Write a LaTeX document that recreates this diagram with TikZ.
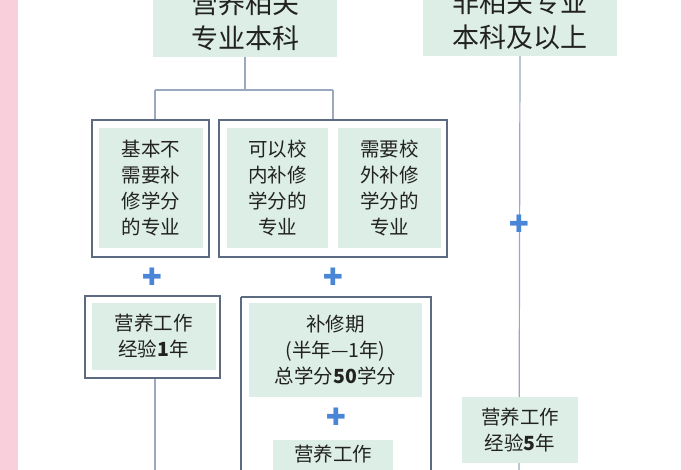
\documentclass[tikz,border=0pt]{standalone}
\usepackage{fontspec}
\setmainfont{Noto Sans CJK SC}
\newfontfamily\symf{DejaVu Sans}
\definecolor{pinkb}{HTML}{F9CFDC}
\definecolor{gfill}{HTML}{DDEEE6}
\definecolor{obord}{HTML}{5C6B82}
\definecolor{lcol}{HTML}{9AA8C0}
\definecolor{pblue}{HTML}{4A86D8}
\definecolor{txt}{HTML}{222222}
\tikzset{
 gbox/.style={fill=gfill,inner sep=0pt,align=center,text=txt,font=\fontsize{19.5}{26}\selectfont},
 tbox/.style={fill=gfill,inner sep=0pt,align=center,text=txt,font=\fontsize{27}{35}\selectfont},
 obox/.style={draw=obord,line width=1.3pt},
 conn/.style={draw=lcol,line width=1.2pt},
 plus/.style={text=pblue,inner sep=0pt,font=\symf\fontsize{24}{24}\selectfont}
}
\begin{document}
\begin{tikzpicture}[x=1pt,y=-1pt]
\useasboundingbox (0,0) rectangle (700,470);
\fill[white] (0,0) rectangle (700,470);
\fill[pinkb] (0,0) rectangle (18,470);
\fill[pinkb] (681,0) rectangle (700,470);
% connectors
\coordinate (jL) at (155,90);
\coordinate (jR) at (333,90);
\coordinate (e1) at (155,470);
\coordinate (e2) at (519,470);
\node[tbox,minimum width=184pt,minimum height=72pt] (t1) at (245,21) {营养相关\\专业本科};
\node[tbox,minimum width=194pt,minimum height=72pt] (t2) at (520,20) {非相关专业\\本科及以上};
\draw[conn] (t1.south) -- (t1.south |- jL);
\draw[conn] (jL) -- (jR);
\draw[conn] (jL) -- (155,120);
\draw[conn] (jR) -- (333,120);
\draw[conn] (t2.south) -- (e2);
\draw[conn] (155,378) -- (e1);
% box A
\draw[obox] (92,120) rectangle (209,257);
\node[gbox,minimum width=104pt,minimum height=120pt] (a) at (151,188) {基本不\\需要补\\修学分\\的专业};
% box B
\draw[obox] (219,120) rectangle (447,257);
\node[gbox,minimum width=101pt,minimum height=120pt] (b1) at (277.5,188) {可以校\\内补修\\学分的\\专业};
\node[gbox,minimum width=103pt,minimum height=120pt] (b2) at (389.5,188) {需要校\\外补修\\学分的\\专业};
% pluses
\node[plus] (p1) at (152,277) {✚};
\node[plus] (p2) at (333,277) {✚};
\node[plus] (p3) at (519,224) {✚};
\node[plus] (p4) at (336,417) {✚};
% box C
\draw[obox] (85,296) rectangle (220,378);
\node[gbox,minimum width=124pt,minimum height=67pt] (c) at (153.5,336.5) {营养工作\\经验\textbf{1}年};
% box D
\draw[obox] (241,297) -- (241,475) (241,297) -- (431,297) -- (431,475);
\node[gbox,minimum width=173pt,minimum height=94pt] (d1) at (335.5,350) {补修期\\(半年—1年)\\总学分\textbf{50}学分};
\node[gbox,minimum width=120pt,minimum height=40pt,anchor=north,text depth=14pt] (d2) at (333,440) {营养工作};
% box E
\node[gbox,minimum width=116pt,minimum height=66pt] (e) at (520,430) {营养工作\\经验\textbf{5}年};
\end{tikzpicture}
\end{document}
